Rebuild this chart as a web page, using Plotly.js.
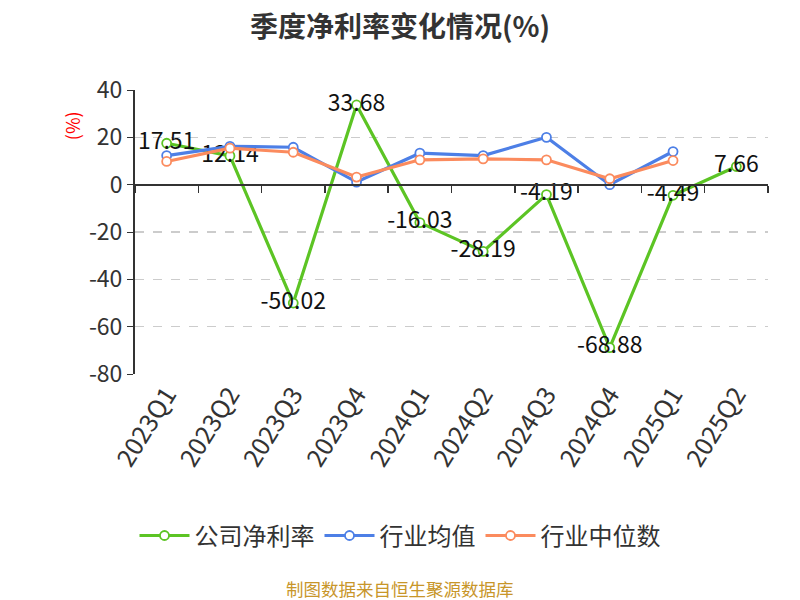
<!DOCTYPE html>
<html><head><meta charset="utf-8">
<script src="https://cdn.plot.ly/plotly-3.0.1.min.js"></script>
<style>body{margin:0;background:#fff}#c{width:800px;height:600px}</style>
</head><body><div id="c"></div>
<script>
const categories = ['2023Q1','2023Q2','2023Q3','2023Q4','2024Q1','2024Q2','2024Q3','2024Q4','2025Q1','2025Q2'];
const companyNet = [17.51, 12.14, -50.02, 33.68, -16.03, -28.19, -4.19, -68.88, -4.49, 7.66];
const industryMean = [12.3, 16.2, 15.8, 1.1, 13.3, 12.3, 20.0, 0.0, 14.0, null];
const industryMedian = [9.8, 15.4, 13.7, 3.2, 10.5, 10.9, 10.5, 2.5, 10.2, null];
const yTicks = [40, 20, 0, -20, -40, -60, -80];

const FONT = '"Noto Sans CJK SC", "Noto Sans", sans-serif';
const green = '#5cc424', blue = '#4d7fe6', orange = '#fb8b5e';
const CX = (400 - 135) / 633;

function series(name, y, color, withText) {
  const t = {
    type: 'scatter', mode: withText ? 'lines+markers+text' : 'lines+markers',
    name: name, x: categories, y: y,
    line: {color: color, width: 3.2},
    marker: {symbol: 'circle', size: 9, color: '#fff', line: {color: color, width: 1.8}},
    hoverinfo: 'x+y', cliponaxis: false
  };
  if (withText) {
    t.text = y.map(v => v.toFixed(2));
    t.textposition = 'middle center';
    t.textfont = {size: 23, color: '#111', family: FONT};
  }
  return t;
}

const traces = [
  series('公司净利率', companyNet, green, true),
  series('行业均值', industryMean, blue, false),
  series('行业中位数', industryMedian, orange, false),
  {type: 'scatter', mode: 'markers', x: categories, y: companyNet, xaxis: 'x2',
   marker: {opacity: 0}, showlegend: false, hoverinfo: 'skip'}
];

const layout = {
  width: 800, height: 600,
  paper_bgcolor: '#fff', plot_bgcolor: '#fff',
  font: {family: FONT, color: '#333'},
  margin: {l: 135, r: 32, t: 90, b: 226},
  title: {text: '<b>季度净利率变化情况(%)</b>', x: 0.5, xanchor: 'center', y: 0.955, yanchor: 'middle',
          font: {size: 28, color: '#333', family: FONT}},
  xaxis: {
    type: 'category', range: [-0.5, 9.5], showline: false, showgrid: false, zeroline: false,
    ticks: '', tickangle: -58, tickfont: {size: 25, color: '#333', family: FONT}
  },
  xaxis2: {
    type: 'category', overlaying: 'x', matches: 'x', anchor: 'free', position: 80/120,
    showline: true, linecolor: '#333', linewidth: 2, ticks: 'outside', ticklen: 7, tickcolor: '#333',
    tickwidth: 1.5, tickson: 'boundaries', showticklabels: false, showgrid: false, zeroline: false
  },
  yaxis: {
    range: [-80, 40], tickvals: yTicks, ticktext: yTicks.map(String),
    showline: true, linecolor: '#333', linewidth: 2, ticks: 'outside', ticklen: 6, tickcolor: '#333',
    showgrid: true, gridcolor: '#cccccc', griddash: 'dash', gridwidth: 1.2, zeroline: false,
    tickfont: {size: 23, color: '#333', family: FONT}
  },
  showlegend: true,
  legend: {orientation: 'h', x: CX, xanchor: 'center', y: -0.57, yanchor: 'middle',
           font: {size: 24, color: '#333', family: FONT}, itemwidth: 50, traceorder: 'normal'},
  annotations: [
    {text: '(%)', textangle: -90, xref: 'paper', yref: 'paper', x: -0.1, y: 0.875, xanchor: 'center', yanchor: 'middle',
     showarrow: false, font: {size: 18, color: '#ff0000', family: FONT}},
    {text: '制图数据来自恒生聚源数据库', xref: 'paper', yref: 'paper', x: CX, y: -0.755, xanchor: 'center', yanchor: 'middle',
     showarrow: false, font: {size: 17.5, color: '#c8962a', family: FONT}}
  ]
};
Plotly.newPlot('c', traces, layout, {displayModeBar: false, staticPlot: true});
</script></body></html>
